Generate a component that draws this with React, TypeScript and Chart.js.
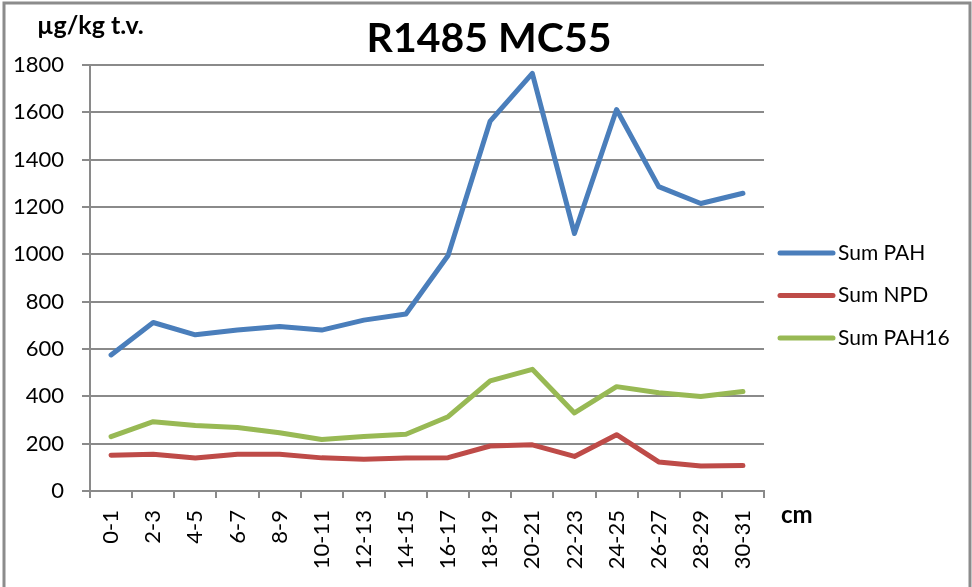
import React, { useEffect, useRef } from 'react';
import { Chart, registerables } from 'chart.js';

Chart.register(...registerables);

const categories = ['0-1', '2-3', '4-5', '6-7', '8-9', '10-11', '12-13', '14-15', '16-17', '18-19', '20-21', '22-23', '24-25', '26-27', '28-29', '30-31'];
const sumPAH = [575, 712, 660, 680, 695, 680, 722, 748, 995, 1563, 1765, 1088, 1612, 1286, 1215, 1258];
const sumNPD = [151, 155, 139, 155, 155, 140, 134, 139, 141, 190, 195, 146, 238, 123, 106, 108];
const sumPAH16 = [230, 293, 277, 268, 246, 218, 230, 240, 314, 465, 514, 330, 441, 415, 399, 420];
const seriesLabels = ['Sum PAH', 'Sum NPD', 'Sum PAH16'];
const seriesColors = ['#4A7EBB', '#BE4B48', '#98B954'];
const yMin = 0;
const yMax = 1800;
const yStep = 200;
const chartTitle = 'R1485 MC55';
const yTitle = 'µg/kg t.v.';
const xTitle = 'cm';

const GRID = '#8a8a8a';
const FONT = 'Lato';

const decor = {
  id: 'decor',
  beforeDraw(chart: any) {
    const ctx = chart.ctx;
    ctx.save();
    ctx.fillStyle = '#ffffff';
    ctx.fillRect(0, 0, chart.width, chart.height);
    ctx.restore();
  },
  afterDraw(chart: any) {
    const ctx = chart.ctx;
    ctx.save();
    // outer frame
    ctx.strokeStyle = '#8c8c8c';
    ctx.lineWidth = 3;
    ctx.beginPath();
    ctx.moveTo(4, chart.height);
    ctx.lineTo(4, 3);
    ctx.lineTo(970, 3);
    ctx.lineTo(970, chart.height);
    ctx.stroke();

    ctx.fillStyle = '#000';
    ctx.textBaseline = 'alphabetic';
    ctx.textAlign = 'center';
    ctx.font = `bold 41px ${FONT}`;
    ctx.fillText(chartTitle, 489, 52);

    ctx.textAlign = 'left';
    ctx.font = `bold 25px ${FONT}`;
    ctx.fillText(yTitle, 37, 34);

    ctx.font = `bold 24px ${FONT}`;
    ctx.fillText(xTitle, 781, 523);

    // legend
    chart.data.datasets.forEach((ds: any, i: number) => {
      const y = 253 + i * 42.5;
      ctx.strokeStyle = ds.borderColor;
      ctx.lineWidth = 5;
      ctx.lineCap = 'round';
      ctx.beginPath();
      ctx.moveTo(780, y);
      ctx.lineTo(833, y);
      ctx.stroke();
      ctx.fillStyle = '#000';
      ctx.font = `21px ${FONT}`;
      ctx.textBaseline = 'middle';
      ctx.textAlign = 'left';
      ctx.fillText(ds.label, 838, y);
    });
    ctx.restore();
  },
};

export default function App() {
  const ref = useRef<HTMLCanvasElement | null>(null);
  useEffect(() => {
    if (!ref.current) return;
    const series = [sumPAH, sumNPD, sumPAH16];
    const chart = new Chart(ref.current, {
      type: 'line',
      data: {
        labels: categories,
        datasets: series.map((d, i) => ({
          label: seriesLabels[i],
          data: d,
          borderColor: seriesColors[i],
          backgroundColor: seriesColors[i],
          borderWidth: 5,
          pointRadius: 0,
          tension: 0,
          borderCapStyle: 'round',
          borderJoinStyle: 'round',
          order: 2 - i,
        })),
      },
      options: {
        responsive: false,
        animation: false,
        devicePixelRatio: 1,
        layout: { padding: { top: 65, right: 208, left: 0, bottom: 0 } },
        plugins: {
          legend: { display: false },
          title: { display: false },
          tooltip: { enabled: false },
        },
        scales: {
          x: {
            type: 'category',
            offset: true,
            grid: {
              offset: true,
              drawOnChartArea: false,
              drawTicks: true,
              tickLength: 7,
              color: GRID,
              lineWidth: 2,
            },
            border: { display: true, color: GRID, width: 2 },
            ticks: {
              autoSkip: false,
              maxRotation: 90,
              minRotation: 90,
              padding: 12,
              color: '#000',
              font: { family: FONT, size: 22 },
            },
            afterFit(scale: any) {
              scale.height = 96;
              scale.paddingLeft = 0;
              scale.paddingRight = 0;
            },
          },
          y: {
            min: yMin,
            max: yMax,
            ticks: {
              stepSize: yStep,
              padding: 18,
              color: '#000',
              font: { family: FONT, size: 22 },
              callback: (v: any) => String(v),
            },
            grid: {
              color: GRID,
              lineWidth: 2,
              drawTicks: true,
              tickLength: 8,
            },
            border: { display: true, color: GRID, width: 2 },
            afterFit(scale: any) {
              scale.width = 90;
              scale.paddingTop = 0;
              scale.paddingBottom = 0;
            },
          },
        },
      },
      plugins: [decor],
    } as any);
    return () => chart.destroy();
  }, []);
  return (
    <div style={{ position: 'absolute', left: 0, top: 0, width: 972, height: 587 }}>
      <canvas ref={ref} width={972} height={587} style={{ display: 'block', width: 972, height: 587 }} />
    </div>
  );
}
